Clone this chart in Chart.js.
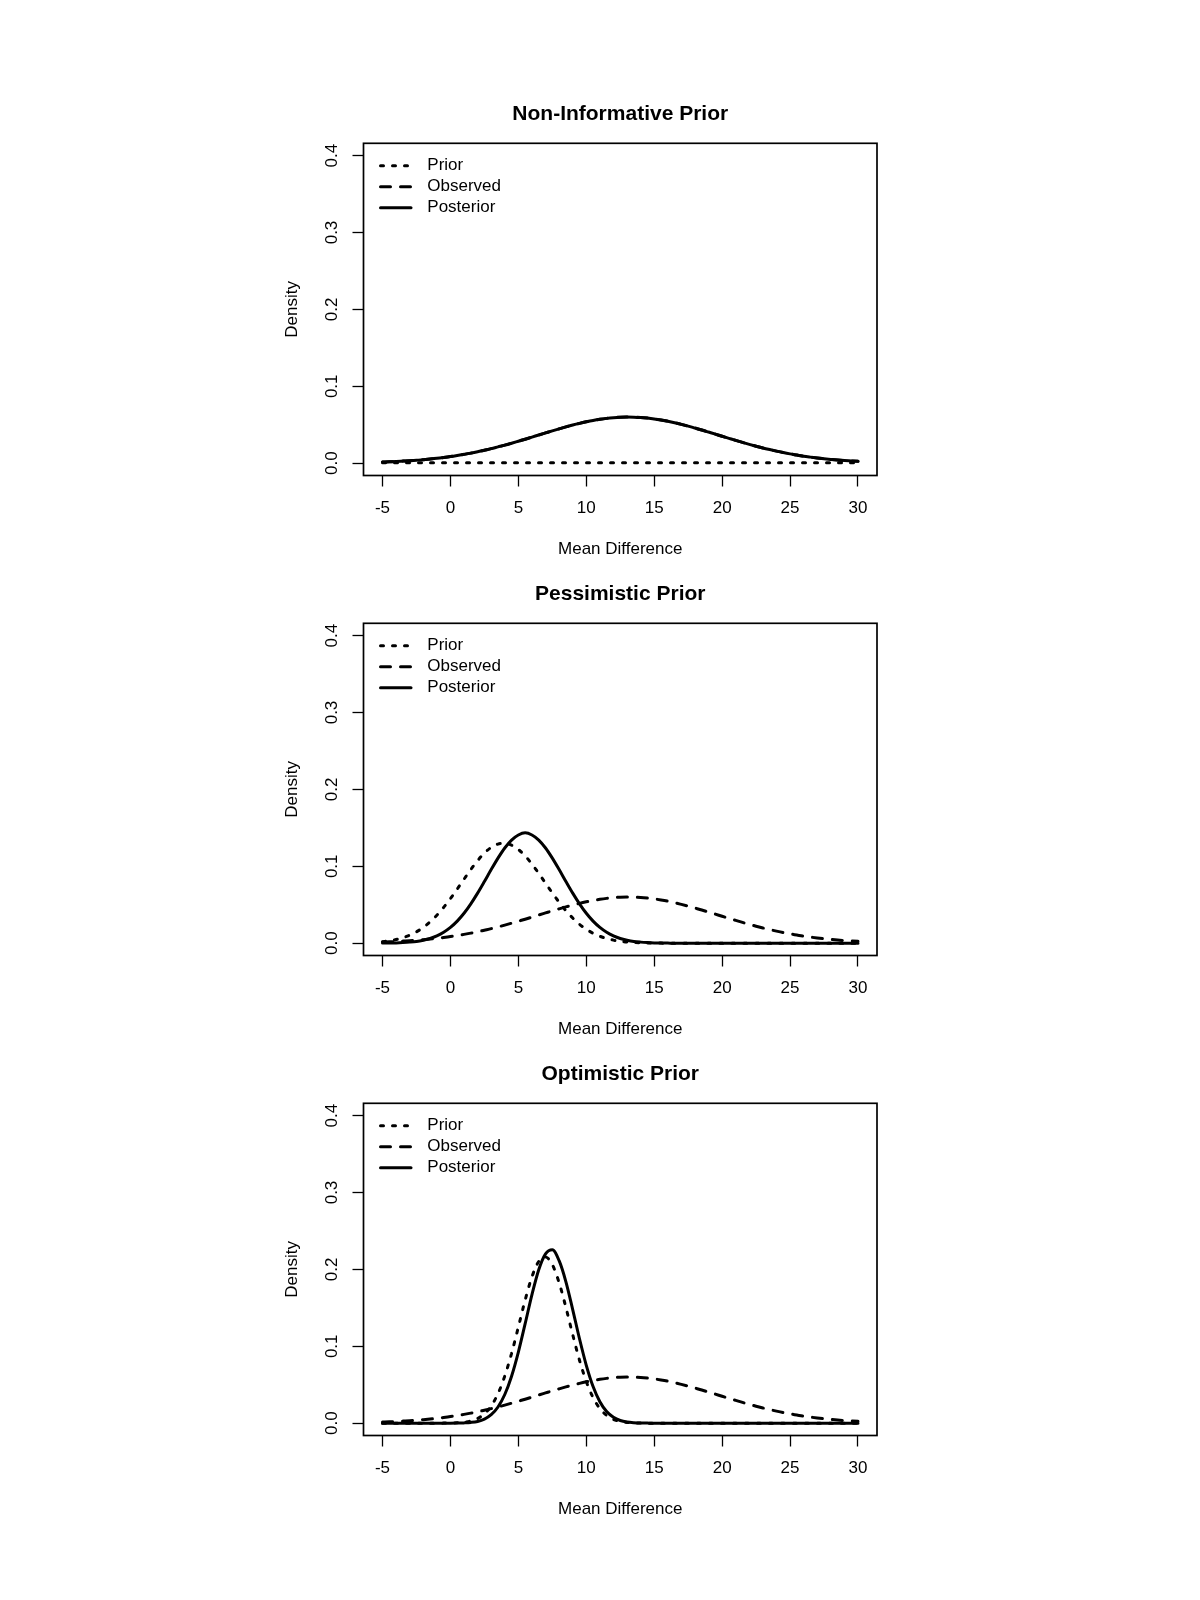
<!DOCTYPE html>
<html>
<head>
<meta charset="utf-8">
<title>Non-Informative, Pessimistic and Optimistic Priors</title>
<script src="https://cdn.jsdelivr.net/npm/chart.js@4.4.1/dist/chart.umd.min.js"></script>
<style>
  html, body { margin: 0; padding: 0; background: #fff; }
  body { width: 1200px; height: 1600px; position: relative; overflow: hidden; }
  .panel { position: absolute; left: 0; width: 1200px; height: 480px; }
</style>
</head>
<body>
<div class="panel" style="top:80px"><canvas id="chartNonInf" width="1200" height="480"></canvas></div>
<div class="panel" style="top:560px"><canvas id="chartPess" width="1200" height="480"></canvas></div>
<div class="panel" style="top:1040px"><canvas id="chartOpt" width="1200" height="480"></canvas></div>
<script>
const FONT = '"Liberation Sans", Arial, Helvetica, sans-serif';

// ----- axis ticks -----
const xTicks = [-5, 0, 5, 10, 15, 20, 25, 30];
const yTicks = [0, 0.1, 0.2, 0.3, 0.4];

// ----- mean difference grid (x) -----
const meanDiff = [
  -5, -4.5, -4, -3.5, -3, -2.5, -2, -1.5, -1, -0.5,
  0, 0.5, 1, 1.5, 2, 2.5, 3, 3.5, 4, 4.5,
  5, 5.5, 6, 6.5, 7, 7.5, 8, 8.5, 9, 9.5,
  10, 10.5, 11, 11.5, 12, 12.5, 13, 13.5, 14, 14.5,
  15, 15.5, 16, 16.5, 17, 17.5, 18, 18.5, 19, 19.5,
  20, 20.5, 21, 21.5, 22, 22.5, 23, 23.5, 24, 24.5,
  25, 25.5, 26, 26.5, 27, 27.5, 28, 28.5, 29, 29.5,
  30
];

// observed data density (same in all three panels)
const observed = [
  0.0015, 0.0018, 0.0022, 0.0027, 0.0032, 0.0038, 0.0046, 0.0054, 0.0063, 0.0074,
  0.0086, 0.0100, 0.0115, 0.0131, 0.0149, 0.0169, 0.0189, 0.0212, 0.0235, 0.0260,
  0.0286, 0.0312, 0.0339, 0.0367, 0.0394, 0.0421, 0.0447, 0.0472, 0.0496, 0.0518,
  0.0538, 0.0556, 0.0571, 0.0583, 0.0592, 0.0598, 0.0600, 0.0599, 0.0595, 0.0587,
  0.0576, 0.0562, 0.0546, 0.0527, 0.0505, 0.0482, 0.0457, 0.0432, 0.0405, 0.0378,
  0.0350, 0.0323, 0.0296, 0.0270, 0.0245, 0.0221, 0.0198, 0.0177, 0.0157, 0.0138,
  0.0121, 0.0106, 0.0091, 0.0079, 0.0068, 0.0058, 0.0049, 0.0041, 0.0034, 0.0029,
  0.0024
];

// non-informative prior: flat, practically zero
const nonInfPrior = [
  0.0005, 0.0005, 0.0005, 0.0005, 0.0005, 0.0005, 0.0005, 0.0005, 0.0005, 0.0005,
  0.0005, 0.0005, 0.0005, 0.0005, 0.0005, 0.0005, 0.0005, 0.0005, 0.0005, 0.0005,
  0.0005, 0.0005, 0.0005, 0.0005, 0.0005, 0.0005, 0.0005, 0.0005, 0.0005, 0.0005,
  0.0005, 0.0005, 0.0005, 0.0005, 0.0005, 0.0005, 0.0005, 0.0005, 0.0005, 0.0005,
  0.0005, 0.0005, 0.0005, 0.0005, 0.0005, 0.0005, 0.0005, 0.0005, 0.0005, 0.0005,
  0.0005, 0.0005, 0.0005, 0.0005, 0.0005, 0.0005, 0.0005, 0.0005, 0.0005, 0.0005,
  0.0005, 0.0005, 0.0005, 0.0005, 0.0005, 0.0005, 0.0005, 0.0005, 0.0005, 0.0005,
  0.0005
];
// with a flat prior the posterior sits on the observed curve
const nonInfPosterior = observed;

const pessPrior = [
  0.0019, 0.0031, 0.0047, 0.0071, 0.0104, 0.0148, 0.0205, 0.0277, 0.0364, 0.0466,
  0.0580, 0.0704, 0.0832, 0.0958, 0.1073, 0.1172, 0.1245, 0.1289, 0.1299, 0.1275,
  0.1219, 0.1135, 0.1029, 0.0908, 0.0781, 0.0654, 0.0533, 0.0423, 0.0327, 0.0246,
  0.0181, 0.0129, 0.0090, 0.0061, 0.0040, 0.0026, 0.0016, 0.0010, 0.0006, 0.0003,
  0.0002, 0.0001, 0, 0, 0, 0, 0, 0, 0, 0,
  0, 0, 0, 0, 0, 0, 0, 0, 0, 0,
  0, 0, 0, 0, 0, 0, 0, 0, 0, 0,
  0
];
const pessPosterior = [
  0.0001, 0.0002, 0.0004, 0.0008, 0.0014, 0.0023, 0.0039, 0.0061, 0.0095, 0.0142,
  0.0205, 0.0287, 0.0389, 0.0512, 0.0651, 0.0802, 0.0957, 0.1106, 0.1238, 0.1341,
  0.1407, 0.1435, 0.1407, 0.1341, 0.1238, 0.1106, 0.0957, 0.0802, 0.0651, 0.0512,
  0.0389, 0.0287, 0.0205, 0.0142, 0.0095, 0.0061, 0.0039, 0.0023, 0.0014, 0.0008,
  0.0004, 0.0002, 0.0001, 0, 0, 0, 0, 0, 0, 0,
  0, 0, 0, 0, 0, 0, 0, 0, 0, 0,
  0, 0, 0, 0, 0, 0, 0, 0, 0, 0,
  0
];

const optPrior = [
  0, 0, 0, 0, 0, 0, 0, 0, 0, 0.0001,
  0.0002, 0.0005, 0.0012, 0.0028, 0.0061, 0.0121, 0.0224, 0.0384, 0.0613, 0.0908,
  0.1251, 0.1601, 0.1904, 0.2104, 0.2160, 0.2061, 0.1827, 0.1505, 0.1152, 0.0819,
  0.0542, 0.0333, 0.0190, 0.0101, 0.0050, 0.0023, 0.0010, 0.0004, 0.0001, 0,
  0, 0, 0, 0, 0, 0, 0, 0, 0, 0,
  0, 0, 0, 0, 0, 0, 0, 0, 0, 0,
  0, 0, 0, 0, 0, 0, 0, 0, 0, 0,
  0
];
const optPosterior = [
  0, 0, 0, 0, 0, 0, 0, 0, 0, 0,
  0, 0.0001, 0.0004, 0.0010, 0.0023, 0.0053, 0.0110, 0.0211, 0.0373, 0.0611,
  0.0925, 0.1294, 0.1672, 0.1996, 0.2202, 0.2255, 0.2113, 0.1839, 0.1478, 0.1098,
  0.0753, 0.0477, 0.0279, 0.0151, 0.0076, 0.0035, 0.0015, 0.0006, 0.0002, 0.0001,
  0, 0, 0, 0, 0, 0, 0, 0, 0, 0,
  0, 0, 0, 0, 0, 0, 0, 0, 0, 0,
  0, 0, 0, 0, 0, 0, 0, 0, 0, 0,
  0
];

function toPoints(values) {
  return meanDiff.map((x, i) => ({ x: x, y: values[i] }));
}

// full box round the plot region, like R's box()
const frame = {
  id: 'frame',
  afterDatasetsDraw(chart) {
    const { ctx, chartArea: a } = chart;
    ctx.save();
    ctx.strokeStyle = '#000';
    ctx.lineWidth = 1.7;
    ctx.strokeRect(a.left, a.top, a.right - a.left, a.bottom - a.top);
    ctx.restore();
  }
};

// legend in the top-left corner of the plot region
const rLegend = {
  id: 'rLegend',
  afterDraw(chart) {
    const { ctx, chartArea: a } = chart;
    ctx.save();
    ctx.font = '17px ' + FONT;
    ctx.textBaseline = 'middle';
    ctx.textAlign = 'left';
    chart.data.datasets.forEach((ds, i) => {
      const y = a.top + 22.5 + i * 21;
      ctx.beginPath();
      ctx.setLineDash(ds.borderDash || []);
      ctx.lineCap = 'round';
      ctx.lineWidth = ds.borderWidth;
      ctx.strokeStyle = ds.borderColor;
      ctx.moveTo(a.left + 17, y);
      ctx.lineTo(a.left + 47.5, y);
      ctx.stroke();
      ctx.setLineDash([]);
      ctx.fillStyle = '#000';
      ctx.fillText(ds.label, a.left + 63.8, y);
    });
    ctx.restore();
  }
};

const lineStyle = {
  borderColor: '#000',
  borderWidth: 3,
  pointRadius: 0,
  fill: false,
  cubicInterpolationMode: 'monotone',
  borderCapStyle: 'round',
  borderJoinStyle: 'round'
};

function makeChart(canvasId, title, prior, posterior) {
  return new Chart(document.getElementById(canvasId), {
    type: 'line',
    data: {
      datasets: [
        { ...lineStyle, label: 'Prior', data: toPoints(prior), borderDash: [3, 9], order: 3 },
        { ...lineStyle, label: 'Observed', data: toPoints(observed), borderDash: [10, 10], order: 2 },
        { ...lineStyle, label: 'Posterior', data: toPoints(posterior), borderDash: [], order: 1 }
      ]
    },
    plugins: [frame, rLegend],
    options: {
      responsive: false,
      animation: false,
      events: [],
      layout: { padding: { left: 0, right: 323, top: 0, bottom: 0 } },
      plugins: {
        legend: { display: false },
        tooltip: { enabled: false },
        title: {
          display: true,
          text: title,
          color: '#000',
          fullSize: false,
          font: { family: FONT, size: 21, weight: 'bold' },
          padding: { top: 21.2, bottom: 16.9 }
        }
      },
      scales: {
        x: {
          type: 'linear',
          bounds: 'data',
          min: -6.4,
          max: 31.4,
          afterBuildTicks: axis => { axis.ticks = xTicks.map(v => ({ value: v })); },
          afterFit: axis => { axis.height = 84.5; },
          border: { display: false },
          grid: { drawOnChartArea: false, drawTicks: true, tickLength: 11, tickColor: '#000', tickWidth: 1.3 },
          ticks: {
            color: '#000',
            font: { family: FONT, size: 17 },
            padding: 11.3,
            autoSkip: false,
            maxRotation: 0,
            callback: v => String(v)
          },
          title: {
            display: true,
            text: 'Mean Difference',
            color: '#000',
            font: { family: FONT, size: 17 },
            padding: { top: 0, bottom: 0 }
          }
        },
        y: {
          type: 'linear',
          bounds: 'data',
          min: -0.016,
          max: 0.416,
          afterBuildTicks: axis => { axis.ticks = yTicks.map(v => ({ value: v })); },
          afterFit: axis => { axis.width = 363.5; },
          border: { display: false },
          grid: { drawOnChartArea: false, drawTicks: true, tickLength: 11, tickColor: '#000', tickWidth: 1.3 },
          ticks: {
            color: '#000',
            font: { family: FONT, size: 17 },
            padding: 8.2,
            autoSkip: false,
            minRotation: 90,
            maxRotation: 90,
            crossAlign: 'center',
            callback: v => v.toFixed(1)
          },
          title: {
            display: true,
            text: 'Density',
            color: '#000',
            font: { family: FONT, size: 17 },
            padding: { top: 282, bottom: 0 }
          }
        }
      }
    }
  });
}

makeChart('chartNonInf', 'Non-Informative Prior', nonInfPrior, nonInfPosterior);
makeChart('chartPess', 'Pessimistic Prior', pessPrior, pessPosterior);
makeChart('chartOpt', 'Optimistic Prior', optPrior, optPosterior);
</script>
</body>
</html>
